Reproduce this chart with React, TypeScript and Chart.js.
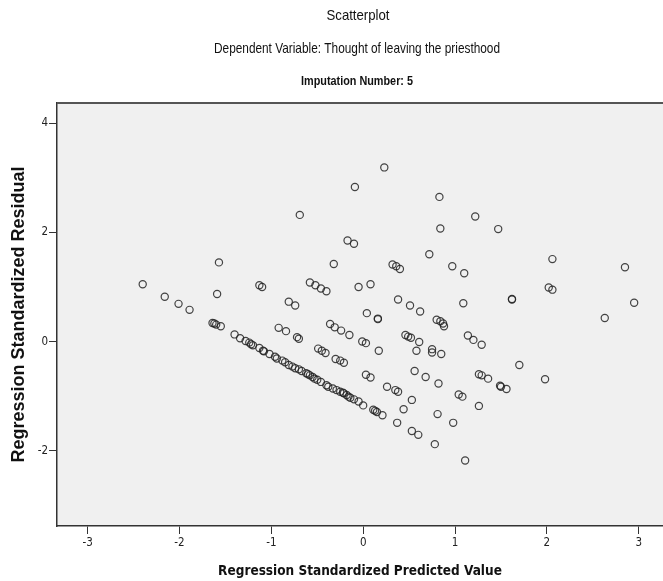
import React, { useEffect, useRef } from "react";
import { Chart, registerables } from "chart.js";

Chart.register(...registerables);

const chartTitle = "Scatterplot";
const chartSubtitle = "Dependent Variable: Thought of leaving the priesthood";
const imputationLabel = "Imputation Number: 5";
const xAxisTitle = "Regression Standardized Predicted Value";
const yAxisTitle = "Regression Standardized Residual";

const xTicks = [-3, -2, -1, 0, 1, 2, 3];
const yTicks = [-2, 0, 2, 4];

// Regression standardized predicted values (x)
const predictedValues = [
  -2.40, -2.16, -2.01, -1.89, -1.57, -1.59, 0.23, -0.09, -0.69, -0.17,
  -0.10, -0.32, 0.32, 0.36, 0.40, -1.13, -1.10, -0.58, -0.52, -0.46,
  -0.40, -0.05, 0.08, -0.81, -0.74, 0.38, 0.51, 0.62, 0.04, 0.16,
  0.16, 0.83, 1.22, 0.84, 1.47, 0.72, 0.97, 1.10, 2.06, 2.85,
  2.02, 2.06, 1.09, 1.62, 1.62, 2.95, 2.63,
  -1.64, -1.60, -1.55, -1.40, -1.34, -1.24, -1.22, -1.13, -1.09, -1.02,
  -0.96, -0.94, -0.88, -0.81, -0.77, -0.74, -0.67, -0.62, -0.58, -0.55,
  -0.53, -0.46, -0.38, -0.29, -0.25, -0.21, -0.18, -0.16, -0.14, -0.05,
  0.00, 0.11, 0.15, 0.21,
  -1.62, -1.20, -1.08, -1.28, -0.85, -0.70, -0.60, -0.50, -0.40, -0.33,
  -0.22, -0.10, 0.13,
  -0.92, -0.84, -0.72, -0.70, -0.49, -0.45, -0.41, -0.30, -0.25, -0.21,
  -0.36, -0.31, -0.24, -0.15, -0.01, 0.03, 0.17, 0.03, 0.08, 0.26,
  0.35, 0.38, 0.37, 0.44, 0.53, 0.53, 0.60, 0.46, 0.49, 0.52,
  0.61, 0.58, 0.56, 0.80, 0.84, 0.87, 0.88, 1.14, 1.20, 1.29,
  0.75, 0.75, 0.85, 1.70, 1.98, 0.68, 0.82, 1.26, 1.29, 1.36,
  1.49, 1.50, 1.56, 1.04, 1.08, 1.26, 0.81, 0.98, 0.78, 1.11,
];

// Regression standardized residuals (y)
const residualValues = [
  1.05, 0.82, 0.69, 0.58, 1.45, 0.87, 3.19, 2.83, 2.32, 1.85,
  1.79, 1.42, 1.41, 1.38, 1.33, 1.03, 1.00, 1.08, 1.03, 0.97,
  0.92, 1.00, 1.05, 0.73, 0.66, 0.77, 0.66, 0.55, 0.52, 0.42,
  0.41, 2.65, 2.29, 2.07, 2.06, 1.60, 1.38, 1.25, 1.51, 1.36,
  0.99, 0.95, 0.70, 0.78, 0.77, 0.71, 0.43,
  0.34, 0.31, 0.28, 0.13, 0.06, -0.02, -0.05, -0.12, -0.17, -0.23,
  -0.28, -0.31, -0.35, -0.43, -0.46, -0.49, -0.54, -0.58, -0.62, -0.65,
  -0.68, -0.74, -0.83, -0.89, -0.92, -0.95, -0.98, -1.01, -1.03, -1.10,
  -1.17, -1.25, -1.29, -1.35,
  0.33, -0.07, -0.18, 0.01, -0.38, -0.51, -0.60, -0.70, -0.80, -0.86,
  -0.94, -1.06, -1.27,
  0.25, 0.19, 0.08, 0.05, -0.13, -0.17, -0.21, -0.32, -0.35, -0.39,
  0.32, 0.26, 0.20, 0.12, 0.00, -0.03, -0.17, -0.61, -0.66, -0.83,
  -0.89, -0.92, -1.49, -1.24, -1.07, -1.64, -1.71, 0.12, 0.09, 0.07,
  -0.01, -0.17, -0.54, 0.40, 0.37, 0.33, 0.28, 0.11, 0.03, -0.06,
  -0.14, -0.20, -0.23, -0.43, -0.69, -0.65, -0.77, -0.60, -0.62, -0.68,
  -0.81, -0.83, -0.87, -0.97, -1.01, -1.18, -1.33, -1.49, -1.88, -2.18,
];

const NARROW = "'DejaVu Sans Condensed', 'Liberation Sans Narrow', sans-serif";
const SANS = "'Liberation Sans', Arial, sans-serif";

function drawSqueezed(ctx: any, text: string, cx: number, cy: number, font: string, targetWidth: number) {
  ctx.save();
  ctx.font = font;
  const w = ctx.measureText(text).width;
  const sx = Math.min(1, targetWidth / w);
  ctx.translate(cx, cy);
  ctx.scale(sx, 1);
  ctx.textAlign = "center";
  ctx.textBaseline = "middle";
  ctx.fillText(text, 0, 0);
  ctx.restore();
}

const framePlugin = {
  id: "spssFrame",
  beforeDraw(chart: any) {
    const { ctx, chartArea } = chart;
    ctx.save();
    ctx.fillStyle = "#f0f0f0";
    ctx.fillRect(chartArea.left, chartArea.top, chartArea.right - chartArea.left, chartArea.bottom - chartArea.top);
    ctx.restore();
  },
  afterDraw(chart: any) {
    const { ctx, chartArea } = chart;
    ctx.save();
    ctx.strokeStyle = "#555";
    ctx.lineWidth = 2;
    ctx.beginPath();
    ctx.moveTo(chartArea.left, chartArea.top);
    ctx.lineTo(chartArea.right, chartArea.top);
    ctx.stroke();

    ctx.fillStyle = "#111";
    drawSqueezed(ctx, chartTitle, 358, 16, `15px ${SANS}`, 63);
    drawSqueezed(ctx, chartSubtitle, 357, 49, `15px ${SANS}`, 286);
    drawSqueezed(ctx, imputationLabel, 357, 81, `bold 13px ${SANS}`, 112);
    ctx.restore();
  },
};

export default function App() {
  const canvasRef = useRef<HTMLCanvasElement | null>(null);

  useEffect(() => {
    document.body.style.overflow = "hidden";
    const canvas = canvasRef.current;
    if (!canvas) return;
    const points = predictedValues.map((x, i) => ({ x, y: residualValues[i] }));
    const chart = new Chart(canvas, {
      type: "scatter",
      data: {
        datasets: [
          {
            data: points,
            pointRadius: 3.6,
            pointHoverRadius: 3.6,
            borderWidth: 1.2,
            borderColor: "rgba(35,35,35,0.85)",
            backgroundColor: "rgba(0,0,0,0)",
          },
        ],
      },
      options: {
        animation: false,
        responsive: false,
        devicePixelRatio: 1,
        layout: { autoPadding: false, padding: { top: 103, left: 0, right: 0, bottom: 0 } },
        plugins: { legend: { display: false }, tooltip: { enabled: false } },
        scales: {
          x: {
            type: "linear",
            min: -3.333,
            max: 3.264,
            afterBuildTicks: (s: any) => {
              s.ticks = xTicks.map((v) => ({ value: v }));
            },
            afterFit: (s: any) => {
              s.height = 55;
              s.paddingLeft = 0;
              s.paddingRight = 0;
            },
            grid: { drawOnChartArea: false, drawTicks: true, tickLength: 8, color: "#333", lineWidth: 1 },
            border: { display: true, color: "#333", width: 1.5 },
            ticks: { font: { family: NARROW, size: 11.5 }, color: "#222", padding: 2, maxRotation: 0 },
            title: {
              display: true,
              text: xAxisTitle,
              font: { family: NARROW, size: 13.5, weight: "bold" },
              color: "#111",
              padding: { top: 0, bottom: 1 },
            },
          },
          y: {
            type: "linear",
            min: -3.38,
            max: 4.37,
            afterBuildTicks: (s: any) => {
              s.ticks = yTicks.map((v) => ({ value: v }));
            },
            afterFit: (s: any) => {
              s.width = 57;
              s.paddingTop = 0;
              s.paddingBottom = 0;
            },
            grid: { drawOnChartArea: false, drawTicks: true, tickLength: 8, color: "#333", lineWidth: 1 },
            border: { display: true, color: "#333", width: 1.5 },
            ticks: { font: { family: NARROW, size: 11.5 }, color: "#222", padding: 1 },
            title: {
              display: true,
              text: yAxisTitle,
              font: { family: SANS, size: 18, weight: "bold" },
              color: "#111",
              padding: { top: 8, bottom: 0 },
            },
          },
        },
      },
      plugins: [framePlugin],
    });
    return () => chart.destroy();
  }, []);

  return (
    <div style={{ position: "fixed", left: 0, top: 0, width: 663, height: 581, background: "#fff" }}>
      <canvas ref={canvasRef} width={663} height={581} style={{ width: 663, height: 581, display: "block" }} />
    </div>
  );
}
